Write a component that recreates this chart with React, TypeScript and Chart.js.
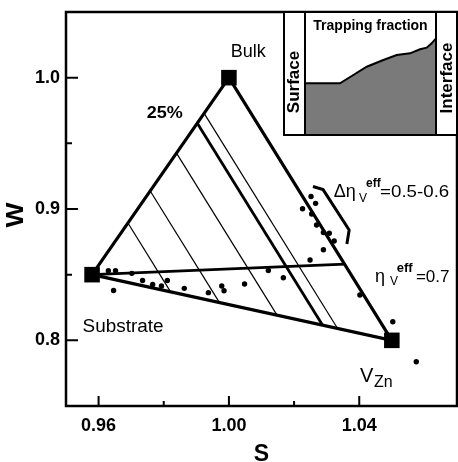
import React, { useEffect, useRef } from "react";
import { Chart, registerables } from "chart.js";

Chart.register(...registerables);

const FONT = '"Liberation Sans", Arial, Helvetica, sans-serif';

// ---- data ----
// triangle vertices (S, W)
const vertexNames = ["Bulk", "Substrate", "V_Zn"];
const vertexS = [1.0, 0.958, 1.05];
const vertexW = [1.0, 0.85, 0.8];

// hatch lines: fraction of substrate component (lines parallel to Bulk–V_Zn edge)
const hatchFractions = [0.738, 0.575, 0.383, 0.231, 0.181];
const thickHatchFraction = 0.231;

// eta_v^eff = 0.7 line end on Bulk–V_Zn edge
const etaLineEndS = 1.0356;
const etaLineEndW = 0.858;

// measured points
const dotS = [
  0.963, 0.9652, 0.9646, 0.9702, 0.9735, 0.9766, 0.9793, 0.9811, 0.9863, 0.9937,
  0.9978, 0.9985, 1.0048, 1.0121, 1.0167, 1.0249, 1.029, 1.0226, 1.0252, 1.0266,
  1.0254, 1.0269, 1.029, 1.0308, 1.0323, 1.0402, 1.0503, 1.0575,
];
const dotW = [
  0.853, 0.853, 0.8379, 0.851, 0.8456, 0.8425, 0.8414, 0.8456, 0.8396, 0.8363,
  0.8414, 0.8378, 0.8429, 0.8532, 0.8477, 0.8612, 0.869, 0.9002, 0.9095, 0.9043,
  0.8962, 0.8878, 0.8821, 0.8815, 0.8756, 0.8345, 0.8142, 0.7837,
];

// bracket marking Δη range
const bracketS = [1.0258, 1.0289, 1.0369, 1.0362];
const bracketW = [0.9171, 0.9148, 0.884, 0.8734];

// inset: trapping fraction profile from surface (0) to interface (1)
const insetDepth = [0, 0.267, 0.369, 0.471, 0.598, 0.7, 0.802, 0.878, 0.929, 0.967, 1.0];
const insetTrapping = [0.42, 0.42, 0.488, 0.555, 0.61, 0.65, 0.664, 0.697, 0.71, 0.745, 0.786];

// axes
const xMajorTicks = [0.96, 1.0, 1.04];
const xMinorTicks = [0.98, 1.02];
const yMajorTicks = [0.8, 0.9, 1.0];
const yMinorTicks = [0.85, 0.95];

// ---- derived geometry ----
const V = vertexNames.map((n, i) => ({ x: vertexS[i], y: vertexW[i] }));
const bulk = V[0];
const sub = V[1];
const vzn = V[2];
const mix = (a: { x: number; y: number }, b: { x: number; y: number }, f: number) => ({
  x: f * a.x + (1 - f) * b.x,
  y: f * a.y + (1 - f) * b.y,
});

type Piece = {
  text: string;
  s: number;
  w: number;
  size: number;
  bold?: boolean;
  align?: CanvasTextAlign;
  sx?: number;
};

const labels: Piece[] = [
  { text: "Bulk", s: 1.0059, w: 1.0157, size: 18, align: "center" },
  { text: "25%", s: 0.9748, w: 0.9691, size: 17, bold: true, sx: 1.06 },
  { text: "Substrate", s: 0.9551, w: 0.8066, size: 18, sx: 1.05 },
  { text: "V", s: 1.0402, w: 0.7685, size: 20 },
  { text: "Zn", s: 1.0445, w: 0.7645, size: 16 },
  { text: "Δη", s: 1.0322, w: 0.9094, size: 18 },
  { text: "V", s: 1.0399, w: 0.9056, size: 12 },
  { text: "eff", s: 1.0421, w: 0.917, size: 12, bold: true },
  { text: "=0.5-0.6", s: 1.0464, w: 0.9094, size: 17, sx: 1.1 },
  { text: "η", s: 1.0448, w: 0.8446, size: 18 },
  { text: "V", s: 1.0494, w: 0.8421, size: 12 },
  { text: "eff", s: 1.0515, w: 0.8523, size: 13, bold: true },
  { text: "=0.7", s: 1.0574, w: 0.8446, size: 17 },
];

function drawText(
  ctx: CanvasRenderingContext2D,
  text: string,
  x: number,
  y: number,
  size: number,
  bold = false,
  align: CanvasTextAlign = "left",
  sx = 1,
  baseline: CanvasTextBaseline = "alphabetic"
) {
  ctx.save();
  ctx.font = `${bold ? "bold " : ""}${size}px ${FONT}`;
  ctx.textAlign = align;
  ctx.textBaseline = baseline;
  ctx.fillStyle = "#000";
  ctx.translate(x, y);
  ctx.scale(sx, 1);
  ctx.fillText(text, 0, 0);
  ctx.restore();
}

const mainPlugin = {
  id: "mainDecor",
  afterDraw(chart: any) {
    const ctx: CanvasRenderingContext2D = chart.ctx;
    const { left, right, top, bottom } = chart.chartArea;
    const xs = chart.scales.x;
    const ys = chart.scales.y;
    ctx.save();
    ctx.strokeStyle = "#000";
    // frame
    ctx.lineWidth = 2.5;
    ctx.strokeRect(left, top, right - left, bottom - top);
    // inward ticks
    ctx.lineWidth = 2;
    ctx.beginPath();
    xMajorTicks.forEach((v) => {
      const p = xs.getPixelForValue(v);
      ctx.moveTo(p, bottom);
      ctx.lineTo(p, bottom - 10);
    });
    xMinorTicks.forEach((v) => {
      const p = xs.getPixelForValue(v);
      ctx.moveTo(p, bottom);
      ctx.lineTo(p, bottom - 5);
    });
    yMajorTicks.forEach((v) => {
      const p = ys.getPixelForValue(v);
      ctx.moveTo(left, p);
      ctx.lineTo(left + 12, p);
    });
    yMinorTicks.forEach((v) => {
      const p = ys.getPixelForValue(v);
      ctx.moveTo(left, p);
      ctx.lineTo(left + 6, p);
    });
    ctx.stroke();
    ctx.restore();

    // annotations
    labels.forEach((l) =>
      drawText(
        ctx,
        l.text,
        xs.getPixelForValue(l.s),
        ys.getPixelForValue(l.w),
        l.size,
        !!l.bold,
        l.align || "left",
        l.sx || 1
      )
    );

    // axis titles
    drawText(ctx, "S", (left + right) / 2, 461, 23, true, "center");
    ctx.save();
    ctx.translate(16, (top + bottom) / 2 + 6);
    ctx.rotate(-Math.PI / 2);
    drawText(ctx, "W", 0, 0, 24, true, "center", 1.1, "middle");
    ctx.restore();
  },
};

const insetPlugin = {
  id: "insetDecor",
  beforeDraw(chart: any) {
    const ctx: CanvasRenderingContext2D = chart.ctx;
    ctx.save();
    ctx.fillStyle = "#fff";
    ctx.fillRect(0, 0, chart.width, chart.height);
    ctx.restore();
  },
  afterDraw(chart: any) {
    const ctx: CanvasRenderingContext2D = chart.ctx;
    const { left, right, top, bottom } = chart.chartArea;
    ctx.save();
    ctx.strokeStyle = "#000";
    ctx.lineWidth = 2;
    ctx.strokeRect(1, top, chart.width - 2, bottom - top);
    ctx.beginPath();
    ctx.moveTo(left, top);
    ctx.lineTo(left, bottom);
    ctx.moveTo(right, top);
    ctx.lineTo(right, bottom);
    ctx.stroke();
    ctx.restore();

    drawText(ctx, "Trapping fraction", (left + right) / 2, top + 18, 14, true, "center");
    ctx.save();
    ctx.translate(left / 2 + 0.5, 71);
    ctx.rotate(-Math.PI / 2);
    drawText(ctx, "Surface", 0, 0, 17, true, "center", 1, "middle");
    ctx.restore();
    ctx.save();
    ctx.translate((right + chart.width) / 2, 67);
    ctx.rotate(-Math.PI / 2);
    drawText(ctx, "Interface", 0, 0, 17, true, "center", 1, "middle");
    ctx.restore();
  },
};

const zeroPad = (s: any) => {
  s.paddingTop = 0;
  s.paddingBottom = 0;
  s.paddingLeft = 0;
  s.paddingRight = 0;
};

export default function App() {
  const mainRef = useRef<HTMLCanvasElement>(null);
  const insetRef = useRef<HTMLCanvasElement>(null);

  useEffect(() => {
    const lineDs = (data: { x: number; y: number }[], width: number) => ({
      data,
      showLine: true,
      borderColor: "#000",
      borderWidth: width,
      pointRadius: 0,
      fill: false,
      tension: 0,
      borderJoinStyle: "miter" as const,
    });

    const hatchDatasets = hatchFractions.map((f) =>
      lineDs([mix(sub, bulk, f), mix(sub, vzn, f)], f === thickHatchFraction ? 2.8 : 1.2)
    );

    const main = new Chart(mainRef.current!, {
      type: "scatter",
      data: {
        datasets: [
          lineDs([sub, bulk, vzn, sub], 3.2),
          lineDs([sub, { x: etaLineEndS, y: etaLineEndW }], 2.8),
          ...hatchDatasets,
          lineDs(
            bracketS.map((s, i) => ({ x: s, y: bracketW[i] })),
            3
          ),
          {
            data: dotS.map((s, i) => ({ x: s, y: dotW[i] })),
            pointRadius: 2.7,
            backgroundColor: "#000",
            borderWidth: 0,
            showLine: false,
          },
          {
            data: V,
            pointStyle: "rect",
            pointRadius: 11,
            backgroundColor: "#000",
            borderWidth: 0,
            showLine: false,
          },
        ] as any,
      },
      options: {
        animation: false,
        responsive: false,
        devicePixelRatio: 1,
        layout: { autoPadding: false, padding: { top: 12, right: 1, left: 0, bottom: 0 } },
        plugins: { legend: { display: false }, tooltip: { enabled: false } },
        events: [],
        scales: {
          x: {
            type: "linear",
            min: 0.95,
            max: 1.07,
            afterBuildTicks: (s: any) => {
              s.ticks = xMajorTicks.map((v) => ({ value: v }));
            },
            afterFit: (s: any) => {
              s.height = 56;
              zeroPad(s);
            },
            grid: { display: false, drawTicks: false },
            border: { display: false },
            ticks: {
              callback: (v: any) => Number(v).toFixed(2),
              font: { family: FONT, size: 18, weight: "bold" },
              color: "#000",
              padding: 9,
              maxRotation: 0,
              autoSkip: false,
            },
          },
          y: {
            type: "linear",
            min: 0.75,
            max: 1.05,
            afterBuildTicks: (s: any) => {
              s.ticks = yMajorTicks.map((v) => ({ value: v }));
            },
            afterFit: (s: any) => {
              s.width = 66;
              zeroPad(s);
            },
            grid: { display: false, drawTicks: false },
            border: { display: false },
            ticks: {
              callback: (v: any) => Number(v).toFixed(1),
              font: { family: FONT, size: 18, weight: "bold" },
              color: "#000",
              padding: 6,
              autoSkip: false,
            },
          },
        },
      } as any,
      plugins: [mainPlugin],
    });

    const inset = new Chart(insetRef.current!, {
      type: "line",
      data: {
        datasets: [
          {
            data: insetDepth.map((d, i) => ({ x: d, y: insetTrapping[i] })),
            borderColor: "#000",
            borderWidth: 2,
            backgroundColor: "#7a7a7a",
            fill: "origin",
            pointRadius: 0,
            tension: 0,
          },
        ],
      },
      options: {
        animation: false,
        responsive: false,
        devicePixelRatio: 1,
        events: [],
        layout: { autoPadding: false, padding: { top: 1, bottom: 1, left: 22, right: 22 } },
        plugins: { legend: { display: false }, tooltip: { enabled: false } },
        scales: {
          x: { type: "linear", min: 0, max: 1, display: false },
          y: { type: "linear", min: 0, max: 1, display: false },
        },
      } as any,
      plugins: [insetPlugin],
    });

    return () => {
      main.destroy();
      inset.destroy();
    };
  }, []);

  return (
    <div style={{ position: "absolute", left: 0, top: 0, width: 458, height: 462, background: "#fff" }}>
      <canvas
        ref={mainRef}
        width={458}
        height={462}
        style={{ position: "absolute", left: 0, top: 0, width: 458, height: 462 }}
      />
      <canvas
        ref={insetRef}
        width={175}
        height={125}
        style={{ position: "absolute", left: 283, top: 11, width: 175, height: 125 }}
      />
    </div>
  );
}
